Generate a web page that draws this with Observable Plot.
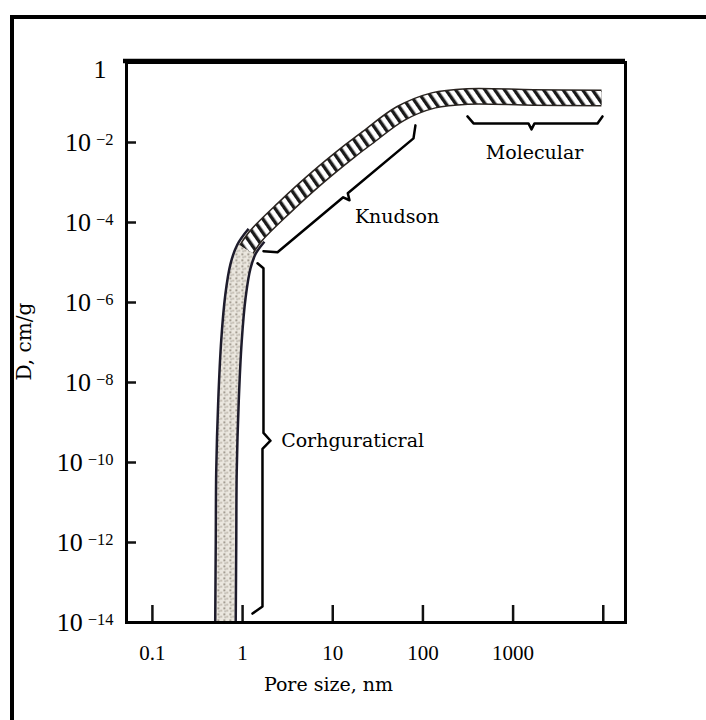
<!DOCTYPE html>
<html><head><meta charset="utf-8">
<script src="https://cdn.jsdelivr.net/npm/d3@7"></script>
<script src="https://cdn.jsdelivr.net/npm/@observablehq/plot@0.6"></script>
<style>
html,body{margin:0;padding:0;background:#fff;overflow:hidden;}
#border{position:absolute;left:10px;top:15px;width:800px;height:800px;border-left:4px solid #000;border-top:4px solid #000;}
#chart{position:absolute;left:0;top:0;}
</style></head><body>
<div id="border"></div><div id="chart"></div>
<script>
// axis ticks
const xTicks = [0.1, 1, 10, 100, 1000, 10000];
const xTickLabels = ["0.1", "1", "10", "100", "1000", ""];
const yTicks = [1, 1e-2, 1e-4, 1e-6, 1e-8, 1e-10, 1e-12, 1e-14];
const yTickExponents = ["", "\u22122", "\u22124", "\u22126", "\u22128", "\u221210", "\u221212", "\u221214"];

// diffusivity band: configurational (steep) part
const poreConfig = [0.646, 0.655, 0.663, 0.698, 0.753, 0.834, 0.948, 1.105, 1.426];
const dConfig    = [1e-14, 1.1e-12, 6.2e-11, 3.5e-9, 1.1e-7, 1.45e-6, 8.1e-6, 2.15e-5, 4.8e-5];
// Knudsen + molecular part
const poreUpper = [1.105, 1.426, 2.84, 6.77, 15.7, 24.3, 56.4, 131, 312, 1680, 9550];
const dUpper    = [2.15e-5, 4.8e-5, 2.24e-4, 1.33e-3, 6.3e-3, 1.33e-2, 0.053, 0.113, 0.142, 0.134, 0.130];

// regime braces
const braceMolX = [312, 364, 1479, 1600, 1727, 8630, 9800];
const braceMolY = [0.0449, 0.030, 0.030, 0.0213, 0.030, 0.030, 0.0449];
const braceKnuX = [1.705, 2.44, 13.05, 15.34, 14.68, 78.6, 82.6];
const braceKnuY = [1.92e-5, 1.81e-5, 4.27e-4, 3.6e-4, 5.38e-4, 0.01269, 0.0268];
const braceConX = [1.463, 1.705, 1.705, 2.04, 1.662, 1.662, 1.288];
const braceConY = [9.6e-6, 7.2e-6, 5.5e-10, 3.5e-10, 2.2e-10, 2.5e-14, 1.67e-14];

// regime labels
const regimeNames = ["Molecular", "Knudson", "Corhguraticral"];
const regimeX = [1730, 51.6, 16.6];
const regimeY = [5.36e-3, 1.35e-4, 3.5e-10];

const xAxisLabel = "Pore size, nm";
const yAxisLabel = "D, cm/g";

const toPts = (xs, ys) => xs.map((x, i) => ({x, y: ys[i]}));
const configPts = toPts(poreConfig, dConfig);
const upperPts = toPts(poreUpper, dUpper);
const braces = [toPts(braceMolX, braceMolY), toPts(braceKnuX, braceKnuY), toPts(braceConX, braceConY)];
const regimes = regimeNames.map((name, i) => ({name, x: regimeX[i], y: regimeY[i]}));
const xLabelOf = new Map(xTicks.map((t, i) => [t, xTickLabels[i]]));
const yExpOf = new Map(yTicks.map((t, i) => [t, yTickExponents[i]]));

const W = 706, H = 720, mL = 126, mR = 81, mT = 62, mB = 98;
const plotW = W - mL - mR, plotH = H - mT - mB;
const serif = "'DejaVu Serif', serif";
const tnr = "'Liberation Serif', 'Times New Roman', serif";
const band = {x: "x", y: "y", curve: "catmull-rom", strokeLinecap: "butt", strokeLinejoin: "round"};

const chart = Plot.plot({
  width: W, height: H,
  marginLeft: mL, marginRight: mR, marginTop: mT, marginBottom: mB,
  style: {background: "transparent", overflow: "visible", color: "#000"},
  x: {type: "log", domain: [0.0516, 17640]},
  y: {type: "log", domain: [1e-14, 1]},
  marks: [
    Plot.line(configPts, {...band, stroke: "#1e1c2c", strokeWidth: 23}),
    Plot.line(configPts, {...band, stroke: "url(#speck)", strokeWidth: 18}),
    Plot.line(upperPts, {...band, stroke: "#2a2420", strokeWidth: 17}),
    Plot.line(upperPts, {...band, stroke: "url(#hatch)", strokeWidth: 14}),
    ...braces.map(b => Plot.line(b, {x: "x", y: "y", stroke: "#000", strokeWidth: 2.5, strokeLinejoin: "round"})),
    Plot.text(regimes, {x: "x", y: "y", text: "name", fontFamily: serif, fontSize: 19, fill: "#000"}),
    Plot.tickX(xTicks, {x: d => d, insetTop: plotH - 17, stroke: "#111", strokeWidth: 2.5}),
    Plot.tickY(yTicks.slice(1), {y: d => d, insetRight: plotW - 10, stroke: "#111", strokeWidth: 2.5}),
    Plot.frame({stroke: "#000", strokeWidth: 3}),
    Plot.ruleY([1], {stroke: "#000", strokeWidth: 4.5, dy: -1.5, insetLeft: -3}),
    Plot.axisX(xTicks.slice(0, 5), {tickSize: 0, tickPadding: 23, tickFormat: d => xLabelOf.get(d), fontSize: 21, fontFamily: tnr, label: null}),
    Plot.axisY(yTicks, {tickSize: 0, tickPadding: 13, tickFormat: d => (yExpOf.get(d) ? "10^" + yExpOf.get(d) : "1"), fontSize: 26, fontFamily: tnr, label: null}),
    Plot.text([xAxisLabel], {x: () => 8.97, frameAnchor: "bottom", dy: 68, text: d => d, fontFamily: serif, fontSize: 19}),
    Plot.text([yAxisLabel], {y: () => 1.12e-8, frameAnchor: "left", dx: -102, rotate: -90, text: d => d, fontFamily: serif, fontSize: 20})
  ]
});

const svg = d3.select(chart);
const defs = svg.insert("defs", ":first-child");
const hatch = defs.append("pattern").attr("id", "hatch").attr("patternUnits", "userSpaceOnUse")
  .attr("width", 8).attr("height", 8).attr("patternTransform", "rotate(-35)");
hatch.append("rect").attr("width", 8).attr("height", 8).attr("fill", "#fff");
hatch.append("rect").attr("width", 3.4).attr("height", 8).attr("fill", "#1a1a1a");
const speck = defs.append("pattern").attr("id", "speck").attr("patternUnits", "userSpaceOnUse")
  .attr("width", 6).attr("height", 6);
speck.append("rect").attr("width", 6).attr("height", 6).attr("fill", "#ebe7df");
speck.append("rect").attr("x", 1).attr("y", 1).attr("width", 1.6).attr("height", 1.6).attr("fill", "#7d7468");
speck.append("rect").attr("x", 4).attr("y", 3.5).attr("width", 1.4).attr("height", 1.4).attr("fill", "#a39a8c");
speck.append("rect").attr("x", 2.2).attr("y", 4.3).attr("width", 1).attr("height", 1).attr("fill", "#5d5850");

svg.selectAll('g[aria-label="y-axis tick label"] text').each(function () {
  const t = this.textContent;
  const el = d3.select(this);
  if (t.startsWith("10^")) {
    const e = t.slice(3);
    el.text("10");
    el.append("tspan").attr("dx", 5).attr("dy", -6).attr("font-size", 16.5).text(e);
  } else {
    el.attr("transform", (this.getAttribute("transform") || "") + " translate(-7,7)");
  }
});

document.getElementById("chart").appendChild(chart);
</script>
</body></html>
